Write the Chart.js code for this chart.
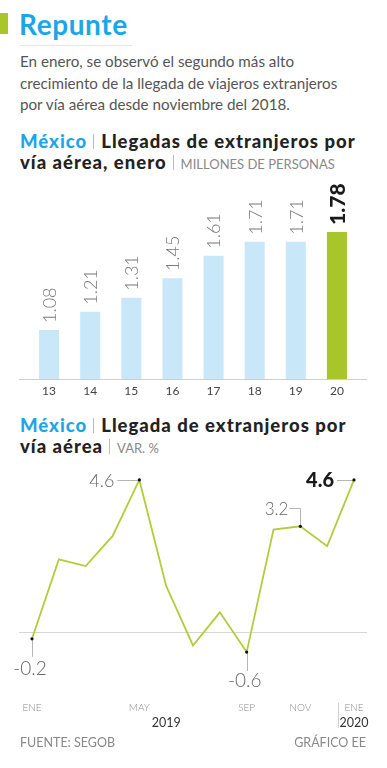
<!DOCTYPE html>
<html>
<head>
<meta charset="utf-8">
<script src="https://cdn.jsdelivr.net/npm/chart.js@4.4.1/dist/chart.umd.min.js"></script>
<style>
body{margin:0;width:387px;height:768px;background:#fff;font-family:Lato,"Open Sans",sans-serif;position:relative;overflow:hidden}
.abs{position:absolute}
#mark{left:0;top:13px;width:8px;height:21px;background:#a8c62a}
#title{left:19px;top:8px;font-size:28px;line-height:32px;font-weight:700;color:#1ba6e8;margin:0;letter-spacing:0.6px}
#rule{left:20px;top:45px;width:112px;height:1px;background:#e6e6e6}
#intro{left:20px;top:51px;width:365px;font-size:15.2px;line-height:21.7px;color:#555;margin:0;white-space:nowrap}
.sub{left:20px;width:367px;font-size:18.5px;line-height:20.5px;font-weight:900;color:#222;margin:0;letter-spacing:1px;white-space:nowrap}
.mx{color:#1ba6e8}
.sep{display:inline-block;width:1px;height:15px;background:#bbb;margin:0 7px 0 6px;vertical-align:-1px}
.unit{font-size:13px;font-weight:400;color:#888;letter-spacing:0}
canvas{position:absolute;left:0}
#foot1{left:20px;top:736px;font-size:12.5px;line-height:14.4px;color:#888}
#foot2{right:21px;top:736px;font-size:12.5px;line-height:14.4px;color:#888}
</style>
</head>
<body>
<div id="mark" class="abs"></div>
<h1 id="title" class="abs">Repunte</h1>
<div id="rule" class="abs"></div>
<p id="intro" class="abs">En enero, se observó el segundo más alto<br>crecimiento de la llegada de viajeros extranjeros<br>por vía aérea desde noviembre del 2018.</p>
<p class="sub abs" style="top:131px"><span class="mx">México</span><span class="sep"></span>Llegadas de extranjeros por<br>vía aérea, enero<span class="sep"></span><span class="unit">MILLONES DE PERSONAS</span></p>
<canvas id="bars" width="387" height="226" style="top:180px"></canvas>
<p class="sub abs" style="top:415px"><span class="mx">México</span><span class="sep"></span>Llegada de extranjeros por<br>vía aérea<span class="sep"></span><span class="unit">VAR. %</span></p>
<canvas id="line" width="387" height="280" style="top:460px"></canvas>
<div id="foot1" class="abs">FUENTE: SEGOB</div>
<div id="foot2" class="abs">GRÁFICO EE</div>

<script>
// llegadas de extranjeros por vía aérea, enero (millones)
const years = ['13', '14', '15', '16', '17', '18', '19', '20'];
const arrivals = [1.08, 1.21, 1.31, 1.45, 1.61, 1.71, 1.71, 1.78];

// variación % mensual, ene 2019 - ene 2020
const months = ['ENE', 'FEB', 'MAR', 'ABR', 'MAY', 'JUN', 'JUL', 'AGO', 'SEP', 'OCT', 'NOV', 'DIC', 'ENE'];
const change = [-0.2, 2.2, 2.0, 2.9, 4.6, 1.4, -0.4, 0.6, -0.6, 3.1, 3.2, 2.6, 4.6];
const shownMonths = [0, 4, 8, 10, 12];
const yearLabels = ['2019', '2020'];

const blue = '#c8e8f9';
const green = '#a8c62a';

const barLabels = {
  id: 'barLabels',
  beforeDatasetsDraw(chart) {
    const ctx = chart.ctx;
    const y = chart.chartArea.bottom + 0.5;
    ctx.save();
    ctx.strokeStyle = '#cfcfcf';
    ctx.lineWidth = 1;
    ctx.beginPath();
    ctx.moveTo(19, y);
    ctx.lineTo(367, y);
    ctx.stroke();
    ctx.restore();
  },
  afterDatasetsDraw(chart) {
    const ctx = chart.ctx;
    const meta = chart.getDatasetMeta(0);
    meta.data.forEach((bar, i) => {
      const last = i === meta.data.length - 1;
      ctx.save();
      ctx.translate(bar.x + 1, bar.y - 7);
      ctx.rotate(-Math.PI / 2);
      ctx.font = last ? '900 21px Lato' : '300 18px Lato';
      ctx.fillStyle = last ? '#1a1a1a' : '#7a7a7a';
      ctx.textAlign = 'left';
      ctx.textBaseline = 'middle';
      ctx.fillText(arrivals[i].toFixed(2), 0, 0);
      ctx.restore();
    });
  }
};

new Chart(document.getElementById('bars'), {
  type: 'bar',
  data: {
    labels: years,
    datasets: [{
      data: arrivals,
      backgroundColor: arrivals.map((v, i) => i === arrivals.length - 1 ? green : blue),
      barPercentage: 0.487,
      categoryPercentage: 1
    }]
  },
  options: {
    responsive: false,
    animation: false,
    layout: { padding: { left: 28.5, right: 29.5, top: 5, bottom: 0 } },
    plugins: { legend: { display: false }, tooltip: { enabled: false } },
    scales: {
      x: {
        grid: { display: false, drawTicks: false },
        border: { display: false },
        ticks: { color: '#444', font: { family: 'Lato', size: 12 }, padding: 5 },
        afterFit: s => { s.height = 27; }
      },
      y: { display: false, min: 0.73, max: 2.115 }
    }
  },
  plugins: [barLabels]
});

// where each note sits relative to its point
const notes = {
  0: { side: 'below', len: 18, dy: 30, font: '300 19px Lato', color: '#666' },
  4: { side: 'left', len: 22, font: '300 18px Lato', color: '#666' },
  8: { side: 'below', len: 19, dy: 29, font: '300 19px Lato', color: '#666' },
  10: { side: 'upleft', len: 18, arm: 11, font: '300 17px Lato', color: '#666' },
  12: { side: 'left', len: 17, font: '900 20px Lato', color: '#1a1a1a' }
};

const lineNotes = {
  id: 'lineNotes',
  beforeDatasetsDraw(chart) {
    const ctx = chart.ctx;
    const ys = chart.scales.y;
    const y0 = Math.round(ys.getPixelForValue(0)) + 0.5;
    ctx.save();
    ctx.strokeStyle = '#d6d6d6';
    ctx.lineWidth = 1;
    ctx.beginPath();
    ctx.moveTo(19, y0);
    ctx.lineTo(367, y0);
    ctx.stroke();

    const meta = chart.getDatasetMeta(0);
    ctx.strokeStyle = '#b5b5b5';
    Object.keys(notes).forEach(k => {
      const n = notes[k];
      const p = meta.data[k];
      ctx.beginPath();
      if (n.side === 'below') {
        ctx.moveTo(Math.round(p.x) + 0.5, p.y);
        ctx.lineTo(Math.round(p.x) + 0.5, p.y + n.len);
      } else if (n.side === 'left') {
        ctx.moveTo(p.x, Math.round(p.y) + 0.5);
        ctx.lineTo(p.x - n.len, Math.round(p.y) + 0.5);
      } else {
        ctx.moveTo(Math.round(p.x) + 0.5, p.y);
        ctx.lineTo(Math.round(p.x) + 0.5, Math.round(p.y - n.len) + 0.5);
        ctx.lineTo(p.x - n.arm, Math.round(p.y - n.len) + 0.5);
      }
      ctx.stroke();
    });
    ctx.restore();
  },
  afterDatasetsDraw(chart) {
    const ctx = chart.ctx;
    const meta = chart.getDatasetMeta(0);
    const xs = chart.scales.x;
    ctx.save();
    Object.keys(notes).forEach(k => {
      const n = notes[k];
      const p = meta.data[k];
      const txt = change[k].toFixed(1);
      ctx.font = n.font;
      ctx.fillStyle = n.color;
      ctx.textBaseline = 'middle';
      if (n.side === 'below') {
        ctx.textAlign = 'center';
        ctx.fillText(txt, p.x - 2, p.y + n.dy);
      } else if (n.side === 'left') {
        ctx.textAlign = 'right';
        ctx.fillText(txt, p.x - n.len - 3, p.y + 1);
      } else {
        ctx.textAlign = 'right';
        ctx.fillText(txt, p.x - n.arm - 1, p.y - n.len + 1);
      }
    });

    // años bajo el eje
    const yy = chart.chartArea.bottom + 31;
    ctx.font = '400 12.5px Lato';
    ctx.fillStyle = '#333';
    ctx.textAlign = 'center';
    ctx.fillText(yearLabels[0], xs.getPixelForValue(5), yy);
    ctx.fillText(yearLabels[1], xs.getPixelForValue(12), yy);

    const sx = Math.round(xs.getPixelForValue(12) - 16) + 0.5;
    ctx.strokeStyle = '#cfcfcf';
    ctx.lineWidth = 1;
    ctx.beginPath();
    ctx.moveTo(sx, chart.chartArea.bottom + 11);
    ctx.lineTo(sx, chart.chartArea.bottom + 36);
    ctx.stroke();
    ctx.restore();
  }
};

new Chart(document.getElementById('line'), {
  type: 'line',
  data: {
    labels: months,
    datasets: [{
      data: change,
      borderColor: '#b4cc3c',
      borderWidth: 1.8,
      tension: 0,
      pointRadius: c => notes[c.dataIndex] ? 1.6 : 0,
      pointBackgroundColor: '#111',
      pointBorderWidth: 0
    }]
  },
  options: {
    responsive: false,
    animation: false,
    layout: { padding: { left: 32, right: 33, top: 10, bottom: 0 } },
    plugins: { legend: { display: false }, tooltip: { enabled: false } },
    scales: {
      x: {
        offset: false,
        grid: { display: false, drawTicks: false },
        border: { display: false },
        ticks: {
          autoSkip: false,
          maxRotation: 0,
          padding: 10,
          color: '#8a8a8a',
          font: { family: 'Lato', size: 10, weight: '300' },
          callback: (v, i) => shownMonths.includes(i) ? months[i] : ''
        },
        afterFit: s => { s.height = 48.2; }
      },
      y: { display: false, min: -1.8, max: 4.9 }
    }
  },
  plugins: [lineNotes]
});
</script>
</body>
</html>
